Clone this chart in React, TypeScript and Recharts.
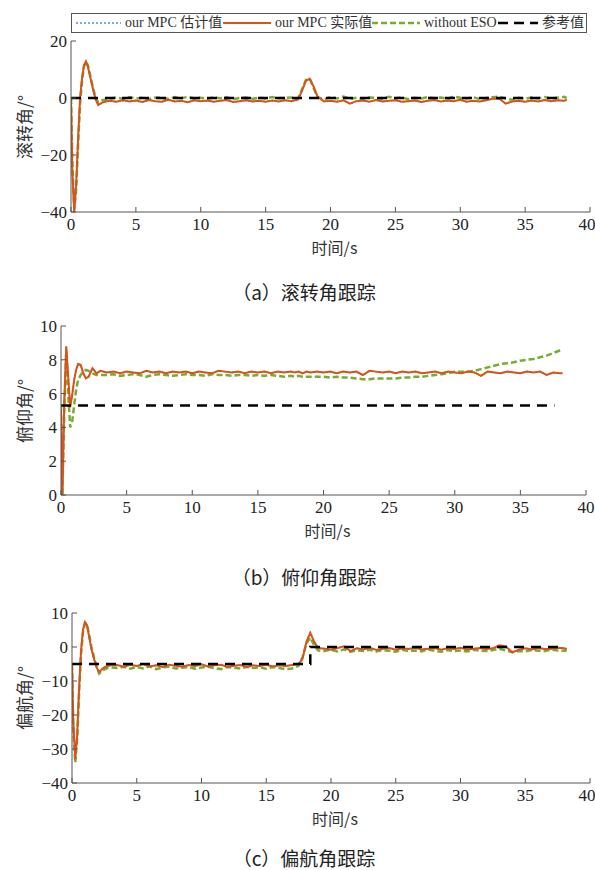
import React from 'react';
import { LineChart, Line, XAxis, YAxis } from 'recharts';

// shared time base (s)
const TIME = [
  0, 0.1, 0.25, 0.4, 0.55, 0.7, 0.85, 1.0, 1.15, 1.3, 1.5, 1.7, 1.9, 2.1, 2.4, 2.7, 3.0,
  3.5, 4.0, 4.5, 5.0, 5.5, 6.0, 6.5, 7.0, 7.5, 8.0, 8.5, 9.0, 9.5, 10.0, 10.5, 11.0, 11.5,
  12.0, 12.5, 13.0, 13.5, 14.0, 14.5, 15.0, 15.5, 16.0, 16.5, 17.0, 17.5,
  17.8, 18.1, 18.4, 18.7, 19.0,
  19.5, 20.0, 20.5, 21.0, 21.5, 22.0, 22.5, 23.0, 23.5, 24.0, 24.5, 25.0, 25.5, 26.0, 26.5,
  27.0, 27.5, 28.0, 28.5, 29.0, 29.5, 30.0, 30.5, 31.0, 31.5, 32.0, 32.5, 33.0, 33.5, 34.0,
  34.5, 35.0, 35.5, 36.0, 36.5, 37.0, 37.5, 38.0,
  38.2,
];
const X_TICKS = [0, 5, 10, 15, 20, 25, 30, 35, 40];

// roll
const ROLL_ACTUAL = [
  0, -25, -40, -30, -14, 0, 7, 11.5, 12.8, 11, 7, 3, -0.5, -2.5, -1.6, -1.2, -1.0,
  -1.3, -0.8, -1.2, -0.9, -1.4, -0.7, -1.1, -1.3, -0.6, -1.2, -1.0, -1.5, -0.8, -1.1, -0.9,
  -1.3, -1.0, -0.7, -1.4, -1.1, -0.8, -1.2, -1.0, -1.3, -0.9, -1.2, -0.8, -1.1, -0.5,
  2.5, 6.0, 6.8, 4.0, 0.5,
  -1.2, -1.0, -1.3, -0.8, -2.0, -1.1, -0.9, -1.3, -0.7, -1.2, -1.0, -0.8, -1.3, -1.1, -0.9,
  -1.4, -1.0, -0.7, -1.2, -0.9, -1.1, -0.6, -1.3, -1.0, -1.2, -0.8, -0.3, -0.2, -2.0, -1.2,
  -1.0, -1.3, -0.9, -1.2, -0.7, -1.1, -0.8, -1.0,
  -0.6,
];
// the estimate lies on top of the actual curve in the figure
const ROLL_ESTIMATE = ROLL_ACTUAL;
const ROLL_NO_ESO = [
  0, -22, -39, -32, -16, -2, 6, 11, 12.8, 11.5, 7.5, 3.5, 0, -1.5, -0.8, -0.5, -0.3,
  0.2, -0.3, 0.3, -0.2, 0.1, -0.4, 0.2, 0.0, -0.3, 0.3, -0.1, 0.4, -0.2, 0.1, -0.3,
  0.2, -0.1, 0.3, -0.4, 0.0, 0.2, -0.3, 0.1, -0.2, 0.3, -0.1, 0.0, 0.2, -0.2,
  3.0, 6.3, 6.7, 3.5, 0.3,
  -0.5, 0.3, -0.2, 0.5, -0.3, 0.1, -0.4, 0.2, 0.0, -0.3, 0.4, -0.1, 0.2, -0.4, 0.1,
  -0.2, 0.3, -0.1, 0.2, -0.3, 0.5, 0.1, -0.2, 0.3, -0.4, 0.0, 0.3, 0.5, -0.2, -0.6,
  0.1, -0.3, 0.2, -0.1, 0.3, -0.2, 0.1, 0.4,
  0.0,
];
const ROLL_REF_T = [0, 37.6];
const ROLL_REF = [0, 0];
const ROLL_TICKS = [-40, -20, 0, 20];

// pitch
const PITCH_ACTUAL = [
  5.0, -0.3, 5.5, 8.8, 7.0, 5.2, 5.9, 6.8, 7.4, 7.75, 7.7, 7.2, 6.9, 7.0, 7.5, 7.2, 7.35,
  7.25, 7.3, 7.2, 7.3, 7.25, 7.2, 7.35, 7.25, 7.3, 7.2, 7.3, 7.25, 7.3, 7.2, 7.3,
  7.25, 7.2, 7.35, 7.3, 7.25, 7.3, 7.2, 7.3, 7.25, 7.3, 7.2, 7.3, 7.25, 7.3,
  7.25, 7.3, 7.2, 7.3, 7.25,
  7.3, 7.25, 7.3, 7.2, 7.3, 7.25, 7.3, 7.1, 7.35, 7.3, 7.25, 7.3, 7.2, 7.3, 7.25,
  7.3, 7.2, 7.25, 7.3, 7.2, 7.3, 7.25, 7.2, 7.3, 7.25, 7.05, 7.3, 7.25, 7.2, 7.3,
  7.25, 7.2, 7.3, 7.25, 7.3, 7.1, 7.25, 7.2,
  7.2,
];
const PITCH_ESTIMATE = PITCH_ACTUAL;
const PITCH_NO_ESO = [
  5.3, 0, 5.0, 8.5, 6.0, 4.0, 4.3, 5.3, 6.2, 6.8, 7.1, 7.3, 7.4, 7.35, 7.2, 7.1, 7.1,
  7.1, 7.15, 7.05, 7.1, 7.15, 7.1, 7.0, 7.1, 7.15, 7.1, 7.05, 7.1, 7.15, 7.1, 7.1,
  7.05, 7.15, 7.1, 7.1, 7.05, 7.1, 7.1, 7.05, 7.1, 7.05, 7.1, 7.05, 7.0, 7.05,
  7.0, 7.05, 7.0, 7.0, 7.0,
  7.0, 7.0, 6.95, 7.0, 6.95, 6.95, 6.9, 6.85, 6.85, 6.9, 6.9, 6.9, 6.9, 6.95, 6.95,
  7.0, 7.0, 7.05, 7.1, 7.15, 7.2, 7.3, 7.3, 7.3, 7.35, 7.45, 7.55, 7.65, 7.75, 7.8,
  7.85, 7.95, 8.0, 8.05, 8.15, 8.25, 8.4, 8.55,
  8.6,
];
const PITCH_REF_T = [0, 37.6];
const PITCH_REF = [5.3, 5.3];
const PITCH_TICKS = [0, 2, 4, 6, 8, 10];

// yaw
const YAW_ACTUAL = [
  -5, -22, -33, -26, -12, -1, 5, 7.3, 6.5, 3.5, -0.5, -3.5, -6, -7.4, -6.2, -5.6, -5.4,
  -5.3, -5.8, -5.2, -5.6, -5.0, -5.7, -5.4, -5.9, -5.2, -5.5, -5.8, -5.3, -5.6, -5.1, -5.7,
  -5.4, -5.2, -5.8, -5.5, -5.3, -5.9, -5.4, -5.6, -5.2, -5.7, -5.4, -5.6, -5.3, -5.0,
  -3.5, 1.5, 4.2, 1.5, -0.3,
  -0.5, -0.8, -0.3, 0.2, -1.2, -0.4, -0.7, -0.2, -0.9, -0.5, -0.3, -0.8, -0.4, -0.6, -0.2,
  -0.7, -0.5, -0.3, -0.8, -0.4, -0.6, -0.2, -0.7, -0.5, -0.3, -0.6, -0.4, 0.5, 0.2, -1.6,
  -0.8, -0.4, -0.7, -0.3, -0.6, -0.5, -0.2, -0.4,
  -0.6,
];
const YAW_ESTIMATE = YAW_ACTUAL;
const YAW_NO_ESO = [
  -5, -24, -34, -27, -13, -2, 4.5, 7.0, 6.8, 4, 0, -3, -5.8, -7.8, -6.8, -6.2, -6.0,
  -6.2, -5.8, -6.4, -5.9, -6.3, -5.7, -6.5, -6.0, -5.8, -6.3, -6.1, -5.9, -6.4, -6.0, -5.8,
  -6.2, -6.5, -5.9, -6.1, -6.3, -5.8, -6.2, -6.0, -6.4, -5.9, -6.2, -6.5, -6.3, -5.5,
  -3.0, 1.0, 2.8, 0.5, -1.0,
  -1.2, -0.8, -1.3, -0.7, -1.4, -1.0, -1.2, -0.8, -1.3, -0.9, -1.1, -1.4, -0.8, -1.2, -1.0,
  -1.3, -0.7, -1.1, -1.4, -0.9, -1.2, -1.0, -1.3, -0.8, -1.1, -1.2, -0.9, -0.5, -1.0, -1.5,
  -1.2, -1.3, -0.9, -1.1, -1.2, -0.8, -1.0, -1.1,
  -1.0,
];
const YAW_REF_T = [0, 18.4, 18.4, 37.6];
const YAW_REF = [-5, -5, 0, 0];
const YAW_TICKS = [-40, -30, -20, -10, 0, 10];

const BLUE = '#4d90e6';
const RED = '#d95319';
const GREEN = '#77ac30';
const AXIS = '#555';
const SERIF = 'Liberation Serif, Times New Roman, serif';
const CJK = '"Noto Sans CJK SC", "Liberation Serif", serif';

const pts = (ts: number[], vs: number[]) => ts.map((t, i) => ({ t, v: vs[i] }));
const minus = (v: number) => String(v).replace('-', '\u2212');

const XTick = (props: any) => (
  <text
    x={props.x}
    y={props.y}
    dy="0.75em"
    textAnchor="middle"
    style={{ fontFamily: SERIF, fontSize: 17 }}
    fill="#222"
  >
    {props.payload.value}
  </text>
);

const YTick = (props: any) => (
  <text
    x={props.x}
    y={props.y}
    dy="0.35em"
    textAnchor="end"
    style={{ fontFamily: SERIF, fontSize: 17 }}
    fill="#222"
  >
    {minus(props.payload.value)}
  </text>
);

interface PanelProps {
  plotLeft: number;
  plotRight: number;
  plotTop: number;
  plotBottom: number;
  yTicks: number[];
  yLabel: string;
  caption: string;
  captionY: number;
  estimate: number[];
  actual: number[];
  noEso: number[];
  refT: number[];
  ref: number[];
}

const Panel: React.FC<PanelProps> = (p) => {
  const pad = 10;
  const xh = 30;
  const height = p.plotBottom - p.plotTop + pad + xh;
  const yDomain = [p.yTicks[0], p.yTicks[p.yTicks.length - 1]];
  const midY = (p.plotTop + p.plotBottom) / 2;
  const midX = (p.plotLeft + p.plotRight) / 2;

  return (
    <>
      <div style={{ position: 'absolute', left: 0, top: p.plotTop - pad }}>
        <LineChart
          width={595}
          height={height}
          margin={{ top: pad, right: 595 - p.plotRight, left: 0, bottom: 0 }}
        >
          <XAxis
            dataKey="t"
            type="number"
            domain={[0, 40]}
            ticks={X_TICKS}
            height={xh}
            stroke={AXIS}
            tickSize={-5}
            tickMargin={10}
            tick={XTick}
            allowDataOverflow
          />
          <XAxis
            xAxisId="top"
            orientation="top"
            type="number"
            domain={[0, 40]}
            ticks={X_TICKS}
            height={0}
            stroke={AXIS}
            tickSize={-5}
            tickFormatter={() => ''}
          />
          <YAxis
            type="number"
            domain={yDomain}
            ticks={p.yTicks}
            width={p.plotLeft}
            stroke={AXIS}
            tickSize={-5}
            tickMargin={9}
            tick={YTick}
            interval={0}
            allowDataOverflow
          />
          <YAxis
            yAxisId="right"
            orientation="right"
            type="number"
            domain={yDomain}
            ticks={p.yTicks}
            width={0}
            stroke={AXIS}
            tickSize={-5}
            tickFormatter={() => ''}
          />
          <Line
            data={pts(TIME, p.estimate)}
            dataKey="v"
            stroke={BLUE}
            strokeWidth={1.5}
            strokeDasharray="2 2"
            dot={false}
            isAnimationActive={false}
          />
          <Line
            data={pts(TIME, p.noEso)}
            dataKey="v"
            stroke={GREEN}
            strokeWidth={2.5}
            strokeDasharray="6 3"
            dot={false}
            isAnimationActive={false}
          />
          <Line
            data={pts(TIME, p.actual)}
            dataKey="v"
            stroke={RED}
            strokeWidth={2}
            dot={false}
            isAnimationActive={false}
          />
          <Line
            data={pts(p.refT, p.ref)}
            dataKey="v"
            stroke="#000"
            strokeWidth={2.5}
            strokeDasharray="10 7"
            dot={false}
            isAnimationActive={false}
          />
        </LineChart>
      </div>
      <div
        style={{
          position: 'absolute',
          left: 23,
          top: midY,
          transform: 'translate(-50%, -50%) rotate(-90deg)',
          whiteSpace: 'nowrap',
          fontFamily: CJK,
          fontSize: 17,
          lineHeight: 1,
          color: '#333',
        }}
      >
        {p.yLabel}
      </div>
      <div
        style={{
          position: 'absolute',
          left: midX + 4,
          top: p.plotBottom + 35,
          transform: 'translate(-50%, -50%)',
          whiteSpace: 'nowrap',
          fontFamily: CJK,
          fontSize: 16,
          lineHeight: 1,
          color: '#333',
        }}
      >
        时间/s
      </div>
      <div
        style={{
          position: 'absolute',
          left: 304,
          top: p.captionY,
          transform: 'translate(-50%, -50%)',
          whiteSpace: 'nowrap',
          fontFamily: CJK,
          fontSize: 19,
          lineHeight: 1,
          color: '#222',
        }}
      >
        {p.caption}
      </div>
    </>
  );
};

const LegendItem: React.FC<{ x: number; w: number; color: string; dash?: string; sw: number; label: string }> = ({
  x,
  w,
  color,
  dash,
  sw,
  label,
}) => (
  <div style={{ position: 'absolute', left: x, top: 0, height: 18, display: 'flex', alignItems: 'center' }}>
    <svg width={w} height={18}>
      <line x1={0} y1={9} x2={w} y2={9} stroke={color} strokeWidth={sw} strokeDasharray={dash} />
    </svg>
    <span style={{ marginLeft: 4, whiteSpace: 'nowrap' }}>{label}</span>
  </div>
);

export default function App() {
  return (
    <div style={{ position: 'absolute', left: 0, top: 0, width: 595, height: 870, background: '#fff' }}>
      <div
        style={{
          position: 'absolute',
          left: 71,
          top: 13,
          width: 516,
          height: 20,
          border: `1.5px solid ${AXIS}`,
          boxSizing: 'border-box',
          fontFamily: `"Liberation Serif", "Noto Sans CJK SC", serif`,
          fontSize: 14,
          lineHeight: 1,
          color: '#333',
        }}
      >
        <LegendItem x={4} w={45} color={BLUE} dash="2 2" sw={1.5} label="our MPC 估计值" />
        <LegendItem x={151} w={48} color={RED} sw={2} label="our MPC 实际值" />
        <LegendItem x={300} w={48} color={GREEN} dash="6 3" sw={2.5} label="without ESO" />
        <LegendItem x={426} w={40} color="#000" dash="10 6" sw={2.5} label="参考值" />
      </div>

      <Panel
        plotLeft={71}
        plotRight={590}
        plotTop={41}
        plotBottom={212}
        yTicks={ROLL_TICKS}
        yLabel="滚转角/°"
        caption="（a）滚转角跟踪"
        captionY={291}
        estimate={ROLL_ESTIMATE}
        actual={ROLL_ACTUAL}
        noEso={ROLL_NO_ESO}
        refT={ROLL_REF_T}
        ref={ROLL_REF}
      />
      <Panel
        plotLeft={61}
        plotRight={586}
        plotTop={326}
        plotBottom={495}
        yTicks={PITCH_TICKS}
        yLabel="俯仰角/°"
        caption="（b）俯仰角跟踪"
        captionY={576}
        estimate={PITCH_ESTIMATE}
        actual={PITCH_ACTUAL}
        noEso={PITCH_NO_ESO}
        refT={PITCH_REF_T}
        ref={PITCH_REF}
      />
      <Panel
        plotLeft={72}
        plotRight={590}
        plotTop={613}
        plotBottom={783}
        yTicks={YAW_TICKS}
        yLabel="偏航角/°"
        caption="（c）偏航角跟踪"
        captionY={857}
        estimate={YAW_ESTIMATE}
        actual={YAW_ACTUAL}
        noEso={YAW_NO_ESO}
        refT={YAW_REF_T}
        ref={YAW_REF}
      />
    </div>
  );
}
